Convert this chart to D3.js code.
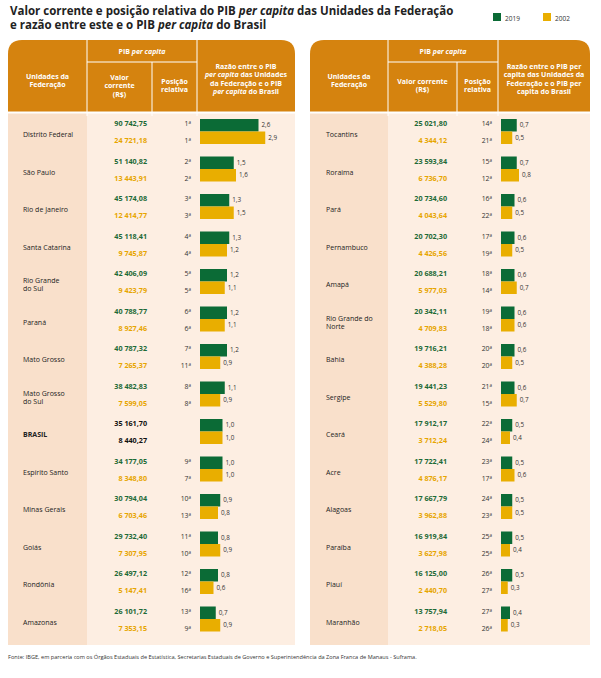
<!DOCTYPE html>
<html><head><meta charset="utf-8">
<script src="https://cdn.jsdelivr.net/npm/d3@7"></script>
<style>body{margin:0;background:#fff;font-family:"Open Sans",sans-serif}</style>
</head><body><svg width="601" height="678"></svg>
<script>
const states = ["Distrito Federal","São Paulo","Rio de Janeiro","Santa Catarina","Rio Grande\ndo Sul","Paraná","Mato Grosso","Mato Grosso\ndo Sul","BRASIL","Espírito Santo","Minas Gerais","Goiás","Rondônia","Amazonas",
  "Tocantins","Roraima","Pará","Pernambuco","Amapá","Rio Grande do\nNorte","Bahia","Sergipe","Ceará","Acre","Alagoas","Paraíba","Piauí","Maranhão"];
const value2019 = ["90 742,75","51 140,82","45 174,08","45 118,41","42 406,09","40 788,77","40 787,32","38 482,83","35 161,70","34 177,05","30 794,04","29 732,40","26 497,12","26 101,72",
  "25 021,80","23 593,84","20 734,60","20 702,30","20 688,21","20 342,11","19 716,21","19 441,23","17 912,17","17 722,41","17 667,79","16 919,84","16 125,00","13 757,94"];
const value2002 = ["24 721,18","13 443,91","12 414,77","9 745,87","9 423,79","8 927,46","7 265,37","7 599,05","8 440,27","8 348,80","6 703,46","7 307,95","5 147,41","7 353,15",
  "4 344,12","6 736,70","4 043,64","4 426,56","5 977,03","4 709,83","4 388,28","5 529,80","3 712,24","4 876,17","3 962,88","3 627,98","2 440,70","2 718,05"];
const pos2019 = [1,2,3,4,5,6,7,8,null,9,10,11,12,13,14,15,16,17,18,19,20,21,22,23,24,25,26,27];
const pos2002 = [1,2,3,4,5,6,11,8,null,7,13,10,16,9,21,12,22,19,14,18,20,15,24,17,23,25,27,26];
const ratio2019 = [2.6,1.5,1.3,1.3,1.2,1.2,1.2,1.1,1.0,1.0,0.9,0.8,0.8,0.7,0.7,0.7,0.6,0.6,0.6,0.6,0.6,0.6,0.5,0.5,0.5,0.5,0.5,0.4];
const ratio2002 = [2.9,1.6,1.5,1.2,1.1,1.1,0.9,0.9,1.0,1.0,0.8,0.9,0.6,0.9,0.5,0.8,0.5,0.5,0.7,0.6,0.5,0.7,0.4,0.6,0.5,0.4,0.3,0.3];
const years = ["2019","2002"];

const GREEN="#0b6b36", YELLOW="#e9ae00", ORANGE="#d5830f", GTEXT="#1d6a37", YTEXT="#e7a500";
const fmt = v => v.toFixed(1).replace(".", ",");
const svg = d3.select("svg");

svg.append("text").attr("x",10).attr("y",15).attr("font-size",11.5).attr("font-weight",700).attr("fill","#222")
  .html('Valor corrente e posição relativa do PIB <tspan font-style="italic">per capita</tspan> das Unidades da Federação');
svg.append("text").attr("x",10).attr("y",29).attr("font-size",11.5).attr("font-weight",700).attr("fill","#222")
  .html('e razão entre este e o PIB <tspan font-style="italic">per capita</tspan> do Brasil');
const leg = svg.append("g");
years.forEach((y,i)=>{
  leg.append("rect").attr("x",[493,543][i]).attr("y",13).attr("width",8).attr("height",8).attr("fill",[GREEN,YELLOW][i]);
  leg.append("text").attr("x",[505,555][i]).attr("y",20.5).attr("font-size",6.5).attr("fill","#333").text(y);
});

const panels = [
  {cols:[8,87,152,197,295], idx:d3.range(0,14), barUnit:22.5},
  {cols:[310,388,457,498,590], idx:d3.range(14,28), barUnit:22.5}
];

const headTop=40, bodyTop=112, bodyBottom=645;
panels.forEach((p,pi)=>{
  const g = svg.append("g");
  const c = p.cols;
  const r=14;
  g.append("path").attr("fill",ORANGE)
    .attr("d",`M${c[0]},${bodyTop}V${headTop+r}Q${c[0]},${headTop} ${c[0]+r},${headTop}H${c[4]-r}Q${c[4]},${headTop} ${c[4]},${headTop+r}V${bodyTop}Z`);
  g.append("rect").attr("x",c[0]).attr("y",bodyTop).attr("width",c[4]-c[0]).attr("height",bodyBottom-bodyTop).attr("fill","#fdeee2");
  g.append("rect").attr("x",c[0]).attr("y",bodyTop).attr("width",c[1]-c[0]).attr("height",bodyBottom-bodyTop).attr("fill","#f9e0cb");
  const ln=(x1,y1,x2,y2)=>g.append("line").attr("x1",x1).attr("y1",y1).attr("x2",x2).attr("y2",y2).attr("stroke","#fff").attr("stroke-width",1);
  ln(c[1],headTop,c[1],bodyTop); ln(c[3],headTop,c[3],bodyTop); ln(c[2],62,c[2],bodyTop); ln(c[1],62,c[3],62);
  [c[1],c[2],c[3]].forEach(x=>ln(x,bodyTop,x,bodyTop+4));
  g.append("line").attr("x1",c[0]).attr("x2",c[4]).attr("y1",bodyTop+0.5).attr("y2",bodyTop+0.5).attr("stroke","#fff").attr("stroke-width",2);
  const ht=(x,y,lines)=>{
    const t=g.append("text").attr("x",x).attr("y",y).attr("text-anchor","middle").attr("font-size",7).attr("font-weight",700).attr("fill","#fff");
    lines.forEach((l,i)=>t.append("tspan").attr("x",x).attr("dy",i?8.3:0).html(l));
  };
  ht((c[0]+c[1])/2,79,["Unidades da","Federação"]);
  ht((c[1]+c[3])/2,54,['PIB <tspan font-style="italic">per capita</tspan>']);
  if(pi===0){
    ht((c[1]+c[2])/2,80,["Valor","corrente","(R$)"]);
    ht((c[3]+c[4])/2,69,["Razão entre o PIB",'<tspan font-style="italic">per capita</tspan> das Unidades',"da Federação e o PIB",'<tspan font-style="italic">per capita</tspan> do Brasil']);
  } else {
    ht((c[1]+c[2])/2,84,["Valor corrente","(R$)"]);
    ht((c[3]+c[4])/2,69,["Razão entre o PIB per","capita das Unidades da","Federação e o PIB per","capita do Brasil"]);
  }
  ht((c[2]+c[3])/2,84,["Posição","relativa"]);

  const y = d3.scaleBand().domain(p.idx).range([bodyTop+4,bodyBottom-4]);
  const x = d3.scaleLinear().domain([0,1]).range([c[3]+3,c[3]+3+p.barUnit]);
  p.idx.forEach(i=>{
    const y0=y(i), bw=y.bandwidth();
    const isBr = states[i]==="BRASIL";
    const nx=c[0]+(pi?16:15);
    const nt=g.append("text").attr("x",nx).attr("y",y0+bw/2+2.5-(states[i].includes("\n")?4:0))
      .attr("font-size",7).attr("fill","#222").attr("font-weight",isBr?700:400);
    states[i].split("\n").forEach((l,k)=>nt.append("tspan").attr("x",nx).attr("dy",k?8:0).text(l));
    const rows=[[value2019,pos2019,ratio2019,GREEN,GTEXT,y0+10],[value2002,pos2002,ratio2002,YELLOW,YTEXT,y0+27]];
    rows.forEach(([v,ps,ra,bc,tc,ty],k)=>{
      g.append("text").attr("x",c[2]-(pi?10:5)).attr("y",ty).attr("text-anchor","end").attr("font-size",7.2)
        .attr("font-weight",700).attr("fill",isBr?"#111":tc).text(v[i]);
      if(ps[i]!=null) g.append("text").attr("x",c[3]-6).attr("y",ty).attr("text-anchor","end").attr("font-size",6.8).attr("fill","#333")
        .html(ps[i]+'<tspan font-size="4.5" dy="-2">a</tspan>');
      const by = y0+3+k*12.5;
      g.append("rect").attr("x",x(0)).attr("y",by).attr("width",x(ra[i])-x(0)).attr("height",12.5).attr("fill",bc);
      g.append("text").attr("x",x(ra[i])+3).attr("y",by+8).attr("font-size",6.3).attr("fill","#333").text(fmt(ra[i]));
    });
  });
});
svg.append("text").attr("x",8).attr("y",659).attr("font-size",5.6).attr("fill","#333")
  .text("Fonte: IBGE, em parceria com os Órgãos Estaduais de Estatística, Secretarias Estaduais de Governo e Superintendência da Zona Franca de Manaus - Suframa.");
</script></body></html>
